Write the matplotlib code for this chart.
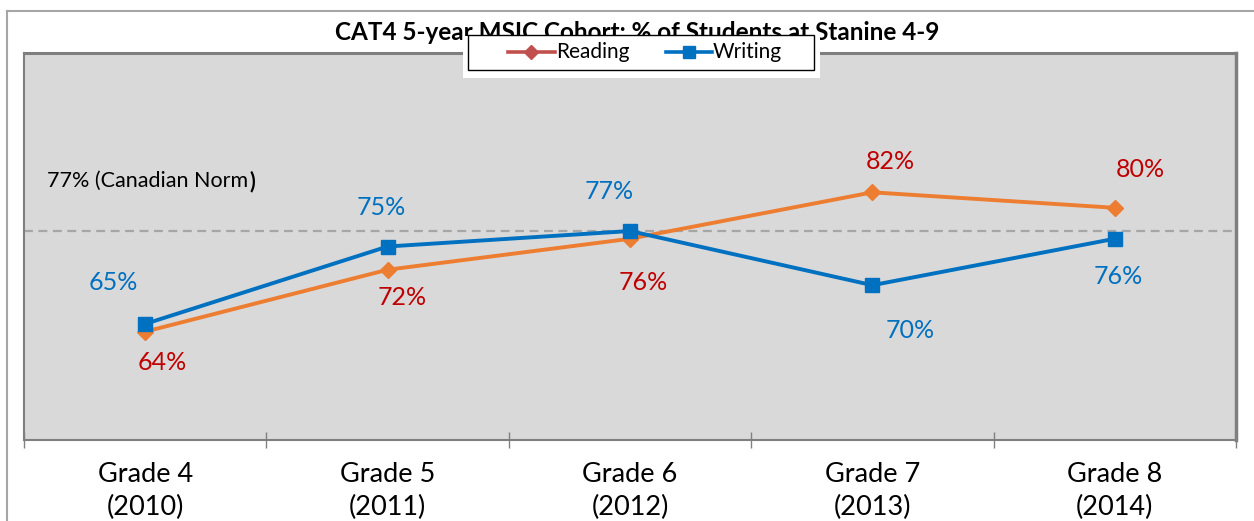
import matplotlib
matplotlib.use("Agg")
import matplotlib.pyplot as plt
from matplotlib.lines import Line2D
from matplotlib.patches import Rectangle

plt.rcParams['font.family'] = ['Lato', 'DejaVu Sans']

# Data
grades = ["Grade 4\n(2010)", "Grade 5\n(2011)", "Grade 6\n(2012)", "Grade 7\n(2013)", "Grade 8\n(2014)"]
reading = [64, 72, 76, 82, 80]
writing = [65, 75, 77, 70, 76]
canadian_norm = 77
title = "CAT4 5-year MSIC Cohort: % of Students at Stanine 4-9"

# Label offsets in pixels (dx, dy)
reading_offsets = [(17, -31), (15, -28), (13, -44), (18, 31), (26, 38)]
writing_offsets = [(-32, 41), (-6, 39), (-21, 40), (38, -45), (3, -38)]

ORANGE = "#ed7d31"
BLUE = "#0070c0"
RED = "#c00000"
W, H = 1254, 521

fig = plt.figure(figsize=(W / 100, H / 100), dpi=100)
ax = fig.add_axes([24 / W, (H - 440) / H, (1236 - 24) / W, (440 - 53) / H])
ax.set_facecolor("#d9d9d9")

x = list(range(len(grades)))
ax.set_xlim(-0.5, len(grades) - 0.5)
ax.set_ylim(50, 100)

ax.axhline(canadian_norm, color="#a6a6a6", lw=1.6, ls=(0, (4, 2.5)), zorder=1)

ax.plot(x, reading, color=ORANGE, lw=2.8, marker="D", ms=8.5, mec=ORANGE, mfc=ORANGE, zorder=3)
ax.plot(x, writing, color=BLUE, lw=2.8, marker="s", ms=9.5, mec=BLUE, mfc=BLUE, zorder=4)

for xi, v, (dx, dy) in zip(x, reading, reading_offsets):
    ax.annotate(f"{v}%", (xi, v), xytext=(dx, dy), textcoords="offset pixels",
                ha="center", va="center", color=RED, fontsize=18)
for xi, v, (dx, dy) in zip(x, writing, writing_offsets):
    ax.annotate(f"{v}%", (xi, v), xytext=(dx, dy), textcoords="offset pixels",
                ha="center", va="center", color=BLUE, fontsize=18)

# Canadian norm note, closing parenthesis in bold
note = ax.annotate(f"{canadian_norm}% (Canadian Norm", (-0.5, canadian_norm), xytext=(23, 50),
                   textcoords="offset pixels", ha="left", va="center", color="black", fontsize=15.5)
fig.canvas.draw()
bb = note.get_window_extent()
ax.annotate(")", (-0.5, canadian_norm), xytext=(bb.x1 - ax.transData.transform((-0.5, canadian_norm))[0] + 1, 50),
            textcoords="offset pixels", ha="left", va="center", color="black",
            fontsize=15.5, fontweight="bold")

# Axes styling
ax.set_yticks([])
ax.set_xticks([i - 0.5 for i in range(len(grades) + 1)])
ax.set_xticklabels([])
ax.tick_params(axis="x", which="major", direction="inout", length=12, width=1, color="#808080")
ax.set_xticks(x, minor=True)
ax.set_xticklabels(grades, minor=True, fontsize=19.5, linespacing=1.38)
ax.tick_params(axis="x", which="minor", length=0, pad=16)
for side in ["left", "top", "right", "bottom"]:
    ax.spines[side].set_color("#7f7f7f")
    ax.spines[side].set_linewidth(1.5)
ax.spines["right"].set_linewidth(2.5)
ax.spines["top"].set_linewidth(2.2)

# Title
fig.text(637 / W, 1 - 32 / H, title, ha="center", va="center", fontsize=17.5, fontweight="bold")

# Legend box drawn over the title
fig.patches.append(Rectangle((463 / W, 1 - 78 / H), (820 - 463) / W, (78 - 36) / H,
                             transform=fig.transFigure, facecolor="white", edgecolor="none", zorder=5))
fig.patches.append(Rectangle((468 / W, 1 - 70 / H), (814 - 468) / W, (70 - 35) / H,
                             transform=fig.transFigure, facecolor="white", edgecolor="black", lw=1, zorder=6))
fig.lines.append(Line2D([508 / W, 531 / W, 555 / W], [1 - 52 / H] * 3, transform=fig.transFigure,
                        color="#c0504d", lw=2.6, marker="D", ms=7, markevery=[1], zorder=7))
fig.lines.append(Line2D([666 / W, 689 / W, 712 / W], [1 - 52 / H] * 3, transform=fig.transFigure,
                        color=BLUE, lw=2.6, marker="s", ms=8, markevery=[1], zorder=7))
fig.text(556 / W, 1 - 52 / H, "Reading", ha="left", va="center", fontsize=15, zorder=8)
fig.text(713 / W, 1 - 52 / H, "Writing", ha="left", va="center", fontsize=15, zorder=8)

# Outer chart frame
fig.lines.append(Line2D([7 / W, 1.0], [1 - 11 / H] * 2, transform=fig.transFigure, color="#a6a6a6", lw=1.5))
fig.lines.append(Line2D([7 / W, 7 / W], [1 - 11 / H, 0], transform=fig.transFigure, color="#a6a6a6", lw=1.5))

fig.savefig("out.png", dpi=100)
